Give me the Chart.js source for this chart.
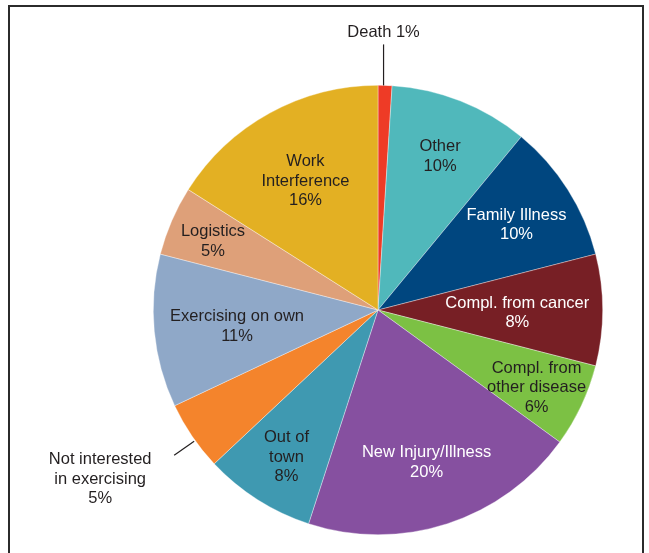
<!DOCTYPE html>
<html>
<head>
<meta charset="utf-8">
<script src="https://cdn.jsdelivr.net/npm/chart.js@4"></script>
<style>
  html, body { margin: 0; padding: 0; background: #fff; overflow: hidden; }
  #wrap { position: relative; width: 649px; height: 553px; }
  #frame {
    position: absolute; left: 8px; top: 5px; width: 636px; height: 600px;
    border: 2px solid #2b2b2b; box-sizing: border-box;
  }
  canvas { position: absolute; left: 0; top: 0; }
</style>
</head>
<body>
<div id="wrap">
  <div id="frame"></div>
  <canvas id="chart-pie" width="649" height="553"></canvas>
</div>
<script>
// categories, clockwise from 12 o'clock
const labels = [
  'Death', 'Other', 'Family Illness', 'Compl. from cancer',
  'Compl. from other disease', 'New Injury/Illness', 'Out of town',
  'Not interested in exercising', 'Exercising on own', 'Logistics',
  'Work Interference'
];
// percent of respondents
const values = [1, 10, 10, 8, 6, 20, 8, 5, 11, 5, 16];
// how each label is broken into lines on the chart
const labelLines = [
  ['Death 1%'],
  ['Other', '10%'],
  ['Family Illness', '10%'],
  ['Compl. from cancer', '8%'],
  ['Compl. from', 'other disease', '6%'],
  ['New Injury/Illness', '20%'],
  ['Out of', 'town', '8%'],
  ['Not interested', 'in exercising', '5%'],
  ['Exercising on own', '11%'],
  ['Logistics', '5%'],
  ['Work', 'Interference', '16%']
];

const sliceColors = [
  '#ee3b26', '#50b8bb', '#00467f', '#771f25', '#7cc144', '#8650a0',
  '#3f99b1', '#f4842c', '#8fa8c8', '#dea079', '#e3b023'
];
const textColors = [
  '#231f20', '#231f20', '#ffffff', '#ffffff', '#231f20', '#ffffff',
  '#231f20', '#231f20', '#231f20', '#231f20', '#231f20'
];

// label placement: fraction of radius for inside labels, null = outside with leader
const labelRadius = [null, 0.75, 0.73, 0.62, 0.78, 0.70, 0.76, null, 0.63, 0.80, 0.67];

const sliceLabels = {
  id: 'sliceLabels',
  afterDatasetsDraw(chart) {
    const ctx = chart.ctx;
    const arcs = chart.getDatasetMeta(0).data;
    ctx.save();
    ctx.font = '16.5px "Liberation Sans", Arial, sans-serif';
    ctx.textAlign = 'center';
    ctx.textBaseline = 'middle';
    const lh = 19.5;
    const nudge = 3;

    arcs.forEach((arc, i) => {
      const mid = (arc.startAngle + arc.endAngle) / 2;
      const cx = arc.x, cy = arc.y, r = arc.outerRadius;
      const lines = labelLines[i];
      let x, y;
      if (labelRadius[i] !== null) {
        x = cx + Math.cos(mid) * r * labelRadius[i];
        y = cy + Math.sin(mid) * r * labelRadius[i] + nudge;
      } else if (i === 0) {
        // Death: vertical leader going up
        const ex = cx + Math.cos(mid) * r;
        const ey = cy + Math.sin(mid) * r;
        ctx.strokeStyle = '#231f20';
        ctx.lineWidth = 1.2;
        ctx.beginPath();
        ctx.moveTo(ex - 1.5, ey);
        ctx.lineTo(ex - 1.5, ey - 41);
        ctx.stroke();
        x = ex - 1.5;
        y = ey - 53;
      } else {
        // Not interested: short diagonal leader to the lower left
        const ex = cx + Math.cos(mid) * r;
        const ey = cy + Math.sin(mid) * r;
        ctx.strokeStyle = '#231f20';
        ctx.lineWidth = 1.2;
        ctx.beginPath();
        ctx.moveTo(ex + 2, ey + 5);
        ctx.lineTo(ex - 18, ey + 19);
        ctx.stroke();
        x = ex - 92;
        y = ey + 43;
      }
      ctx.fillStyle = labelRadius[i] === null ? '#231f20' : textColors[i];
      const y0 = y - (lines.length - 1) * lh / 2;
      lines.forEach((t, k) => ctx.fillText(t, x, y0 + k * lh));
    });
    ctx.restore();
  }
};

new Chart(document.getElementById('chart-pie').getContext('2d'), {
  type: 'pie',
  data: {
    labels: labels,
    datasets: [{
      data: values,
      backgroundColor: sliceColors,
      borderColor: 'rgba(255,255,255,0.6)',
      borderWidth: 0.6
    }]
  },
  options: {
    responsive: false,
    animation: false,
    layout: { padding: { top: 85, bottom: 18, left: 153, right: 46 } },
    plugins: {
      legend: { display: false },
      tooltip: { enabled: false }
    }
  },
  plugins: [sliceLabels]
});
</script>
</body>
</html>
